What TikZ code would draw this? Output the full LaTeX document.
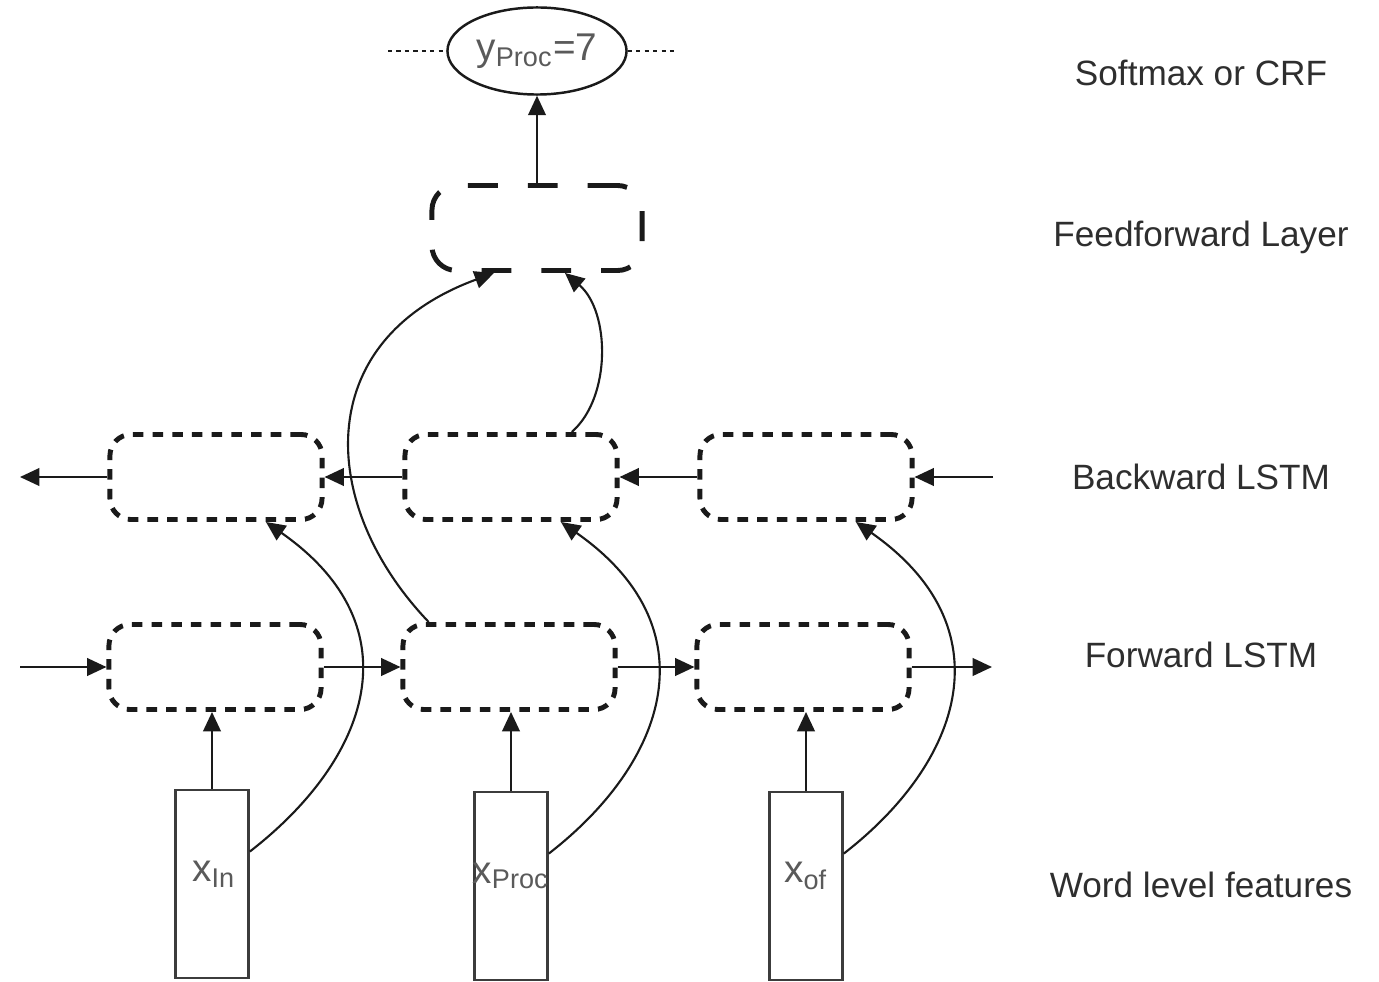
\documentclass[tikz,border=0pt]{standalone}
\usepackage{fontspec}
\setmainfont{Liberation Sans}
\usepackage{tikz}
\usetikzlibrary{arrows.meta,shapes.geometric,calc}
\definecolor{ink}{HTML}{1A1A1A}
\definecolor{soft}{HTML}{5A5A5A}
\definecolor{labtext}{HTML}{2E2E2E}
\tikzset{
  cell/.style={draw=ink, line width=1.4pt, dash pattern=on 3pt off 2.6pt, rounded corners=6pt,
    minimum width=2.12cm, minimum height=0.85cm, inner sep=0pt},
  ffbox/.style={draw=ink, line width=1.4pt, dash pattern=on 8.5pt off 8.5pt, rounded corners=7pt,
    minimum width=2.1cm, minimum height=0.85cm, inner sep=0pt},
  inbox/.style={draw=ink!85, line width=0.7pt, fill=white, minimum width=0.73cm, minimum height=1.88cm, inner sep=0pt},
  outnode/.style={ellipse, draw=ink, line width=0.7pt, text=soft, font=\fontsize{11}{13}\selectfont,
    minimum width=1.79cm, minimum height=0.87cm, inner sep=0pt},
  sym/.style={text=soft, font=\fontsize{11}{13}\selectfont},
  lab/.style={text=labtext, font=\fontsize{10}{12}\selectfont},
  conn/.style={draw=ink, line width=0.6pt, -{Triangle[length=5.5pt,width=5pt]}}
}

\begin{document}
\begin{tikzpicture}[x=0.01cm,y=-0.01cm]
  \useasboundingbox (0,0) rectangle (1379,982);

  % word level inputs
  \node[inbox] (in1) at (212,884) {};
  \node[inbox] (in2) at (511,886) {};
  \node[inbox] (in3) at (806,886) {};
  \node[sym] (xin)   at ($(in1)+(2,-10)$) {x\textsubscript{In}};
  \node[sym] (xproc) at ($(in2)+(0,-10)$) {x\textsubscript{Proc}};
  \node[sym] (xof)   at ($(in3)+(0,-10)$) {x\textsubscript{of}};

  % LSTM cells
  \node[cell] (f1) at (215,667) {};
  \node[cell] (f2) at (509,667) {};
  \node[cell] (f3) at (803,667) {};
  \node[cell] (b1) at (216,477) {};
  \node[cell] (b2) at (511,477) {};
  \node[cell] (b3) at (806,477) {};

  \node[ffbox] (ff) at (537,228) {};
  \node[outnode] (out) at (537,51) {y\textsubscript{Proc}=7};

  \coordinate (fin)  at (20,667);
  \coordinate (fout) at (992,667);
  \coordinate (bin)  at (993,477);
  \coordinate (bout) at (20,477);
  \coordinate (dl) at (388,51);
  \coordinate (dr) at (678,51);

  % forward and backward chains
  \draw[conn] (fin) -- (f1);
  \foreach \a/\b in {f1/f2,f2/f3,b3/b2,b2/b1}
    \draw[conn] (\a) -- (\b);
  \draw[conn] (f3) -- (fout);
  \draw[conn] (bin) -- (b3);
  \draw[conn] (b1) -- (bout);

  \foreach \i in {1,2,3}{
    \draw[conn] (in\i.north) -- (in\i.north |- f\i.south);
    \draw[conn] ($(in\i.north east)!0.33!(in\i.south east)$)
      .. controls +(120,-93) and +(150,105) .. ($(b\i.south west)!0.73!(b\i.south east)$);
  }

  % into the feedforward layer
  \draw[conn] ($(f2.north west)!0.13!(f2.north east)$)
    .. controls +(-110,-115) and +(-185,68) .. ($(ff.south west)!0.3!(ff.south east)$);
  \draw[conn] ($(b2.north west)!0.78!(b2.north east)$)
    .. controls +(40,-35) and +(45,38) .. ($(ff.south west)!0.63!(ff.south east)$);
  \draw[conn] (ff) -- (out);

  \draw[ink, line width=0.8pt, dash pattern=on 1.2pt off 1.2pt] (dl) -- (out);
  \draw[ink, line width=0.8pt, dash pattern=on 1.2pt off 1.2pt] (out) -- (dr);

  % layer names
  \node[lab] (lsm) at (1201,73)  {Softmax or CRF};
  \node[lab] (lff) at (1201,237) {Feedforward Layer};
  \node[lab] (lbw) at (1201,477) {Backward LSTM};
  \node[lab] (lfw) at (1201,655) {Forward LSTM};
  \node[lab] (lwf) at (1201,885) {Word level features};
\end{tikzpicture}
\end{document}
